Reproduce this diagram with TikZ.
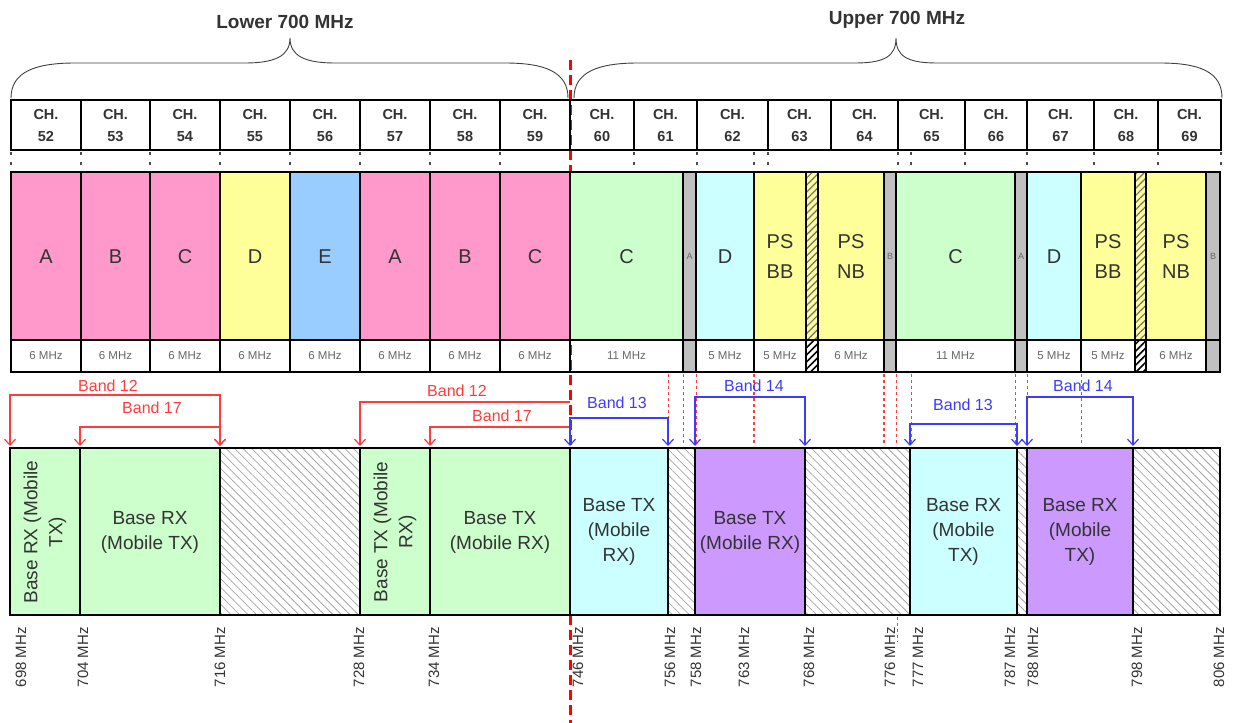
\documentclass[tikz,border=0pt]{standalone}
\usepackage{fontspec}
\setmainfont{Liberation Sans}
\usetikzlibrary{arrows.meta,patterns.meta}

\definecolor{pinkband}{HTML}{FF99CC}
\definecolor{yellowband}{HTML}{FFFF99}
\definecolor{blueband}{HTML}{99CCFF}
\definecolor{greenband}{HTML}{CCFFCC}
\definecolor{cyanband}{HTML}{CCFFFF}
\definecolor{purpleband}{HTML}{CC99FF}
\definecolor{stripgrey}{HTML}{C0C0C0}
\definecolor{bandred}{HTML}{FF3B3B}
\definecolor{bandblue}{HTML}{3C3CFF}
\definecolor{inktext}{HTML}{333333}

\tikzset{
  chbox/.style={draw=black, line width=1.8pt},
  chlbl/.style={font=\fontsize{14.5}{22}\selectfont\bfseries, align=center, text=inktext},
  blklbl/.style={font=\fontsize{20}{30}\selectfont, align=center, text=inktext},
  mhzlbl/.style={font=\fontsize{11.5}{13}\selectfont, text=black!60},
  tinylbl/.style={font=\fontsize{9}{10}\selectfont, text=black!60, inner sep=0pt},
  bandtxt/.style={font=\fontsize{19}{25}\selectfont, align=center, text=inktext},
  freqlbl/.style={font=\fontsize{15}{17}\selectfont, text=inktext, rotate=90, anchor=east, inner sep=0pt},
  bandlbl/.style={font=\fontsize{16}{17}\selectfont, inner sep=0pt},
  tickmark/.style={black!70, line width=1.2pt, dash pattern=on 3pt off 7pt},
  guide/.style={bandred, line width=1pt, dash pattern=on 3pt off 3pt},
  hatch/.style={pattern={Lines[angle=-45,distance=6pt,line width=0.8pt]}, pattern color=black!35},
  redarrow/.style={bandred, line width=1.2pt},
  bluearrow/.style={bandblue, line width=1.2pt},
  tip/.tip={Straight Barb[length=6pt,width=11pt,line width=1.2pt]}
}

\begin{document}
\begin{tikzpicture}[x=1pt,y=-1pt]
  \useasboundingbox (0,0) rectangle (1235,723);

  % 746 MHz split
  \draw[red, line width=3pt, dash pattern=on 10pt off 5pt] (570,60) -- (570,723);

  % braces
  \draw[line width=0.9pt, black!75] (11,98) .. controls (11,72) and (35,63) .. (75,63) -- (245,63)
    .. controls (275,63) and (290,56) .. (290,38) .. controls (290,56) and (305,63) .. (335,63)
    -- (505,63) .. controls (545,63) and (568,72) .. (568,98);
  \draw[line width=0.9pt, black!75] (574,98) .. controls (574,72) and (598,63) .. (638,63) -- (855,63)
    .. controls (885,63) and (896,56) .. (896,38) .. controls (896,56) and (907,63) .. (937,63)
    -- (1160,63) .. controls (1200,63) and (1222,72) .. (1222,98);
  \node[font=\fontsize{19}{21}\selectfont\bfseries, text=inktext] (lower) at (285,22) {Lower 700 MHz};
  \node[font=\fontsize{19}{21}\selectfont\bfseries, text=inktext] (upper) at (897,20) {Upper 700 MHz};

  % channels
  \foreach \xa/\xb/\ch in {11/81/52, 81/150/53, 150/220/54, 220/290/55, 290/360/56, 360/430/57,
      430/500/58, 500/570/59, 570/634/60, 634/697/61, 697/768/62, 768/831/63, 831/898/64,
      898/965/65, 965/1027/66, 1027/1094/67, 1094/1158/68, 1158/1221/69}
    \draw[chbox] (\xa,100) rectangle (\xb,150) node[chlbl] (ch\ch) at ({(\xa+\xb)/2},126) {CH.\\\ch};
  \foreach \x in {11,81,150,220,290,360,430,500,634,697,754,768,898,911,965,1027,1094,1158,1221}
    \draw[tickmark] (\x,152) -- (\x,172);

  % lower 700 blocks
  \foreach \xa/\xb/\lbl/\col in {11/81/A/pinkband, 81/150/B/pinkband, 150/220/C/pinkband,
      220/290/D/yellowband, 290/360/E/blueband, 360/430/A/pinkband, 430/500/B/pinkband, 500/570/C/pinkband}{
    \filldraw[fill=\col, line width=1.5pt] (\xa,172) rectangle (\xb,340);
    \node[blklbl] (blk\xa) at ({(\xa+\xb)/2},257) {\lbl};
    \draw[line width=1.5pt] (\xa,340) rectangle (\xb,372);
    \node[mhzlbl] (mhz\xa) at ({(\xa+\xb)/2},356) {6 MHz};
  }
  % upper 700 blocks
  \foreach \xa/\xb/\lbl/\col/\bw in {570/683/C/greenband/11, 696/754/D/cyanband/5, 754/806/{PS\\BB}/yellowband/5,
      818/884/{PS\\NB}/yellowband/6, 896/1015/C/greenband/11, 1027/1081/D/cyanband/5,
      1081/1135/{PS\\BB}/yellowband/5, 1146/1206/{PS\\NB}/yellowband/6}{
    \filldraw[fill=\col, line width=1.5pt] (\xa,172) rectangle (\xb,340);
    \node[blklbl] (blk\xa) at ({(\xa+\xb)/2},257) {\lbl};
    \draw[line width=1.2pt] (\xa,340) rectangle (\xb,372);
    \node[mhzlbl] (mhz\xa) at ({(\xa+\xb)/2},356) {\bw\ MHz};
  }
  % guard strips
  \foreach \xa/\xb/\lbl in {683/696/A, 884/896/B, 1015/1027/A, 1206/1220/B}{
    \filldraw[fill=stripgrey, line width=1.2pt] (\xa,172) rectangle (\xb,372);
    \node[tinylbl] (grd\xa) at ({(\xa+\xb)/2},256) {\lbl};
  }
  \foreach \xa/\xb in {806/818, 1135/1146}{
    \fill[yellowband] (\xa,172) rectangle (\xb,340);
    \fill[pattern={Lines[angle=45,distance=5pt,line width=1.2pt]}, pattern color=black!55] (\xa,172) rectangle (\xb,340);
    \fill[pattern={Lines[angle=45,distance=5pt,line width=1.6pt]}, pattern color=black] (\xa,340) rectangle (\xb,372);
    \draw[line width=1.5pt] (\xa,172) rectangle (\xb,372);
  }
  \draw[line width=2.5pt] (11,172) rectangle (1220,372);
  \draw[line width=2pt] (11,340) -- (1220,340);

  % band plan
  \foreach \xa/\xb/\col/\txt in {80/220/greenband/{Base RX\\(Mobile TX)}, 430/570/greenband/{Base TX\\(Mobile RX)},
      570/668/cyanband/{Base TX\\(Mobile\\RX)}, 695/805/purpleband/{Base TX\\(Mobile RX)},
      910/1017/cyanband/{Base RX\\(Mobile\\TX)}, 1027/1133/purpleband/{Base RX\\(Mobile\\TX)}}{
    \filldraw[fill=\col, line width=1.5pt] (\xa,448) rectangle (\xb,615);
    \node[bandtxt] (bp\xa) at ({(\xa+\xb)/2},532) {\txt};
  }
  \foreach \xa/\xb/\txt in {10/80/{Base RX (Mobile\\TX)}, 360/430/{Base TX (Mobile\\RX)}}{
    \filldraw[fill=greenband, line width=1.5pt] (\xa,448) rectangle (\xb,615);
    \node[bandtxt, rotate=90] (bp\xa) at ({(\xa+\xb)/2},532) {\txt};
  }
  \foreach \xa/\xb in {220/360, 668/695, 805/910, 1017/1027, 1133/1220}
    \filldraw[hatch, line width=1.5pt] (\xa,448) rectangle (\xb,615);
  \draw[line width=2.5pt] (10,448) rectangle (1220,615);

  % frequency marks
  \foreach \f/\x/\lx in {698/10/21, 704/80/83, 716/220/220, 728/360/359, 734/430/434, 746/570/578,
      756/668/670, 758/695/696, 763/754/744, 768/805/809, 776/897/890, 777/910/918,
      787/1017/1010, 788/1027/1033, 798/1133/1137, 806/1220/1219}{
    \coordinate (f\f) at (\x,446);
    \node[freqlbl] (fl\f) at (\lx,627) {\f\ MHz};
  }

  % guides
  \foreach \x in {668,683,696,896,911,1015,1027,1081}
    \draw[guide] (\x,374) -- (\x,446);
  \foreach \x in {754,884}
    \draw[guide, line width=2pt] (\x,374) -- (\x,446);
  \draw[guide] (897,617) -- (897,642);

  % bands 12 / 17
  \draw[redarrow, tip-tip] (f698) -- ++(0,-51) -| (f716);
  \draw[redarrow, tip-tip] (f704) -- ++(0,-19) -| (f716);
  \draw[redarrow, -tip] (570,402) -| (f728);
  \draw[redarrow, -tip] (570,427) -| (f734);
  \node[bandlbl, text=bandred] (b12a) at (108,386) {Band 12};
  \node[bandlbl, text=bandred] (b17a) at (152,408) {Band 17};
  \node[bandlbl, text=bandred] (b12b) at (457,391) {Band 12};
  \node[bandlbl, text=bandred] (b17b) at (502,416) {Band 17};

  % bands 13 / 14
  \draw[bluearrow, tip-tip] (f746) -- ++(0,-28) -| (f756);
  \draw[bluearrow, tip-tip] (f758) -- ++(0,-49) -| (f768);
  \draw[bluearrow, tip-tip] (f777) -- ++(0,-22) -| (f787);
  \draw[bluearrow, tip-tip] (f788) -- ++(0,-49) -| (f798);
  \node[bandlbl, text=bandblue] (b13a) at (617,403) {Band 13};
  \node[bandlbl, text=bandblue] (b14a) at (754,386) {Band 14};
  \node[bandlbl, text=bandblue] (b13b) at (963,405) {Band 13};
  \node[bandlbl, text=bandblue] (b14b) at (1083,386) {Band 14};
\end{tikzpicture}
\end{document}
